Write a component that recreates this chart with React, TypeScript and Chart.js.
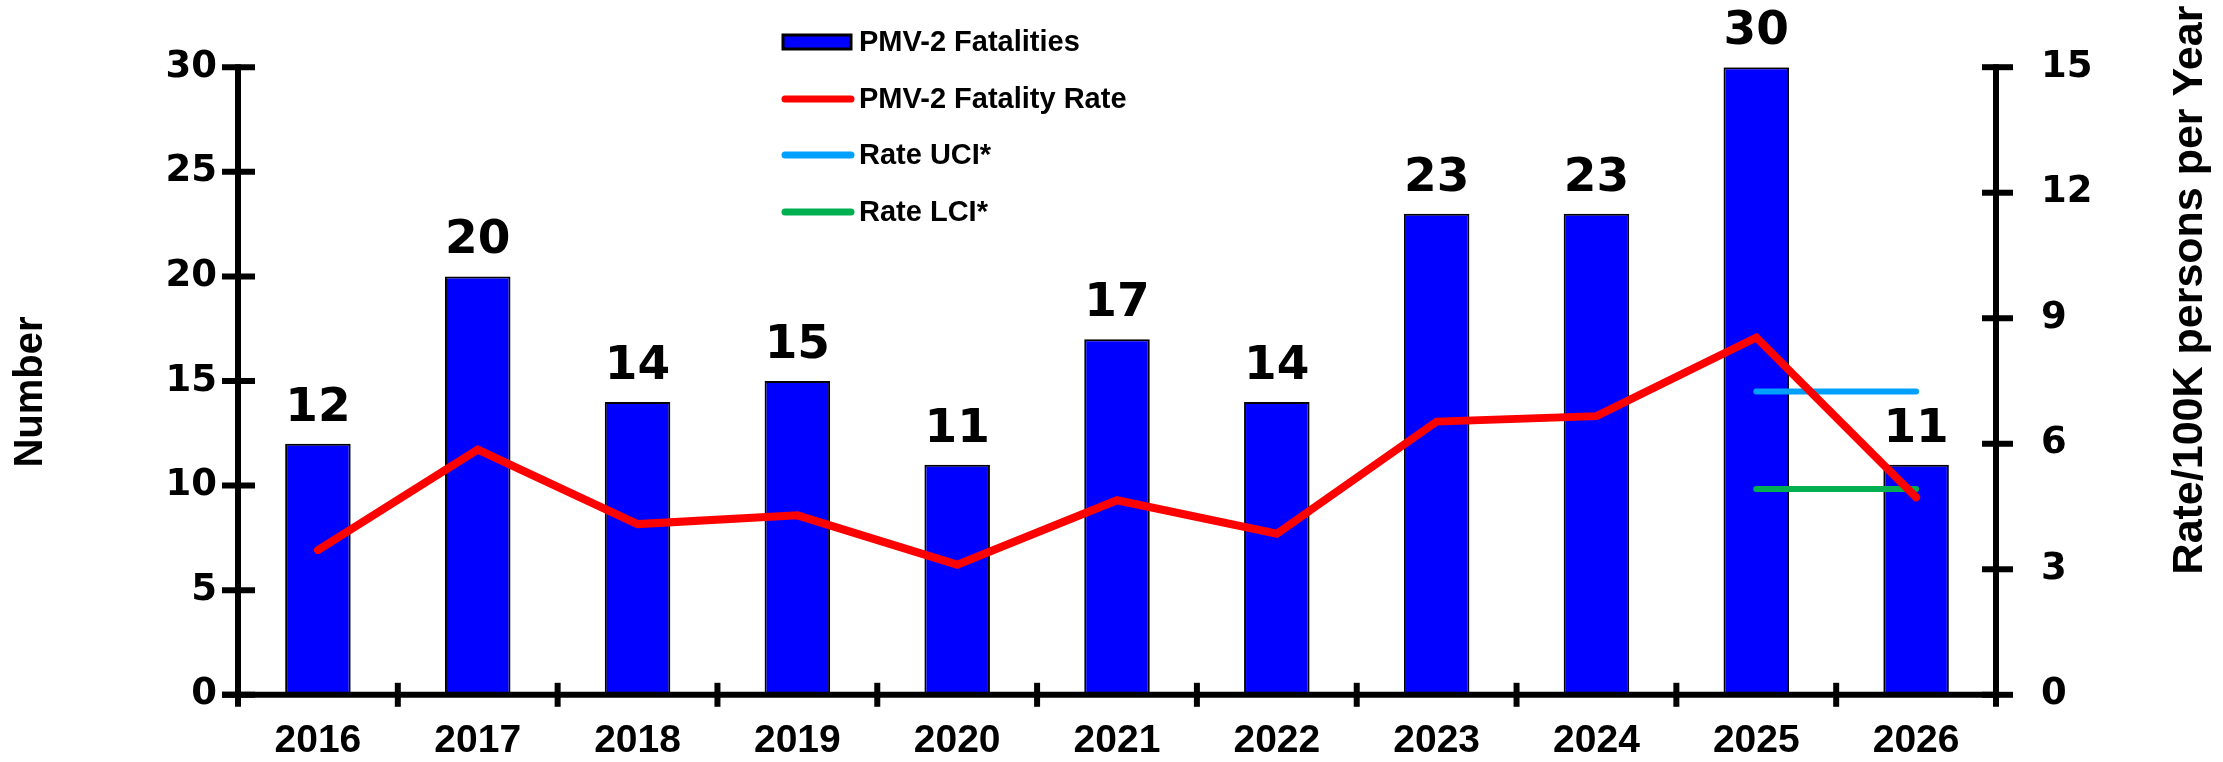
import React, { useEffect, useRef } from "react";
import { Chart, registerables } from "chart.js";

Chart.register(...registerables);

const years = ["2016", "2017", "2018", "2019", "2020", "2021", "2022", "2023", "2024", "2025", "2026"];
const fatalities = [12, 20, 14, 15, 11, 17, 14, 23, 23, 30, 11];
const fatalityRate = [3.46, 5.86, 4.08, 4.29, 3.11, 4.65, 3.85, 6.53, 6.66, 8.54, 4.72];
const rateUCI = [null, null, null, null, null, null, null, null, null, 7.25, 7.25];
const rateLCI = [null, null, null, null, null, null, null, null, null, 4.92, 4.92];
const leftTicks = [0, 5, 10, 15, 20, 25, 30];
const rightTicks = [0, 3, 6, 9, 12, 15];
const leftTitle = "Number";
const rightTitle = "Rate/100K persons per Year";

const W = 2223;
const H = 762;

const customPlugin = {
  id: "custom",
  afterDatasetsDraw(chart: any) {
    const ctx = chart.ctx;
    const x = chart.scales.x;
    const y = chart.scales.y;
    const y1 = chart.scales.y1;
    const ca = chart.chartArea;
    ctx.save();
    ctx.strokeStyle = "#000";
    ctx.lineWidth = 6;
    ctx.lineCap = "butt";
    // left axis
    const y0px = y.getPixelForValue(0);
    const ytop = y.getPixelForValue(leftTicks[leftTicks.length - 1]);
    ctx.beginPath();
    ctx.moveTo(ca.left, y0px + 12);
    ctx.lineTo(ca.left, ytop - 3);
    ctx.stroke();
    leftTicks.forEach((v) => {
      const py = y.getPixelForValue(v);
      ctx.beginPath();
      ctx.moveTo(ca.left - 16, py);
      ctx.lineTo(ca.left + 17, py);
      ctx.stroke();
    });
    // right axis
    ctx.beginPath();
    ctx.moveTo(ca.right, y1.getPixelForValue(0) + 12);
    ctx.lineTo(ca.right, y1.getPixelForValue(rightTicks[rightTicks.length - 1]) - 3);
    ctx.stroke();
    rightTicks.forEach((v) => {
      const py = y1.getPixelForValue(v);
      ctx.beginPath();
      ctx.moveTo(ca.right - 14, py);
      ctx.lineTo(ca.right + 17, py);
      ctx.stroke();
    });
    // x axis
    ctx.beginPath();
    ctx.moveTo(ca.left - 16, y0px);
    ctx.lineTo(ca.right, y0px);
    ctx.stroke();
    for (let i = 1; i < years.length; i++) {
      const px = (x.getPixelForValue(i - 1) + x.getPixelForValue(i)) / 2;
      ctx.beginPath();
      ctx.moveTo(px, y0px - 12);
      ctx.lineTo(px, y0px + 12);
      ctx.stroke();
    }
    // data labels
    const meta = chart.getDatasetMeta(0);
    ctx.fillStyle = "#000";
    ctx.font = "bold 47px 'DejaVu Sans'";
    ctx.textAlign = "center";
    ctx.textBaseline = "alphabetic";
    meta.data.forEach((el: any, i: number) => {
      ctx.fillText(String(fatalities[i]), el.x, el.y - 23);
    });
    // axis titles
    ctx.font = "bold 40px 'Liberation Sans'";
    ctx.textBaseline = "middle";
    ctx.save();
    ctx.translate(31, 392);
    ctx.rotate(-Math.PI / 2);
    ctx.fillText(leftTitle, 0, 0);
    ctx.restore();
    ctx.font = "bold 43px 'Liberation Sans'";
    ctx.save();
    ctx.translate(2190, 290);
    ctx.rotate(-Math.PI / 2);
    ctx.fillText(rightTitle, 0, 0);
    ctx.restore();
    // legend
    const rows = [42, 99, 155, 212];
    const lx0 = 783;
    const lx1 = 851;
    ctx.font = "bold 29px 'Liberation Sans'";
    ctx.textAlign = "left";
    ctx.textBaseline = "middle";
    chart.data.datasets.forEach((ds: any, i: number) => {
      const ry = rows[i];
      if (ds.type === "bar") {
        ctx.fillStyle = ds.backgroundColor;
        ctx.fillRect(lx0, ry - 7, lx1 - lx0, 14);
        ctx.lineWidth = 3;
        ctx.strokeStyle = "#000";
        ctx.strokeRect(lx0, ry - 7, lx1 - lx0, 14);
      } else {
        ctx.strokeStyle = ds.borderColor;
        ctx.lineWidth = 7;
        ctx.lineCap = "round";
        ctx.beginPath();
        ctx.moveTo(lx0 + 2, ry);
        ctx.lineTo(lx1, ry);
        ctx.stroke();
      }
      ctx.fillStyle = "#000";
      ctx.fillText(ds.label, 859, ry + 1);
    });
    ctx.restore();
  },
};

export default function App() {
  const ref = useRef<HTMLCanvasElement | null>(null);
  useEffect(() => {
    if (!ref.current) return;
    const chart = new Chart(ref.current, {
      type: "bar",
      data: {
        labels: years,
        datasets: [
          {
            type: "bar",
            label: "PMV-2 Fatalities",
            data: fatalities,
            backgroundColor: "#0000FF",
            borderColor: "#000000",
            borderWidth: 2,
            barPercentage: 0.41,
            categoryPercentage: 1,
            yAxisID: "y",
            order: 4,
          } as any,
          {
            type: "line",
            label: "PMV-2 Fatality Rate",
            data: fatalityRate,
            borderColor: "#FF0000",
            backgroundColor: "#FF0000",
            borderWidth: 8,
            pointRadius: 0,
            tension: 0,
            borderCapStyle: "round",
            borderJoinStyle: "miter",
            yAxisID: "y1",
            order: 1,
          } as any,
          {
            type: "line",
            label: "Rate UCI*",
            data: rateUCI,
            borderColor: "#00A0FF",
            backgroundColor: "#00A0FF",
            borderWidth: 6,
            pointRadius: 0,
            borderCapStyle: "round",
            yAxisID: "y1",
            order: 2,
          } as any,
          {
            type: "line",
            label: "Rate LCI*",
            data: rateLCI,
            borderColor: "#00B050",
            backgroundColor: "#00B050",
            borderWidth: 6,
            pointRadius: 0,
            borderCapStyle: "round",
            yAxisID: "y1",
            order: 3,
          } as any,
        ],
      },
      options: {
        responsive: false,
        animation: false,
        layout: { padding: { top: 64, left: 0, right: 0, bottom: 0 } },
        plugins: {
          legend: { display: false },
          tooltip: { enabled: false },
        },
        scales: {
          x: {
            type: "category",
            offset: true,
            grid: { display: false, drawTicks: false },
            border: { display: false },
            ticks: {
              color: "#000",
              padding: 23,
              font: { family: "'Liberation Sans'", weight: "bold", size: 39 },
              maxRotation: 0,
              autoSkip: false,
            },
            afterFit: (s: any) => {
              s.height = 63;
            },
          },
          y: {
            position: "left",
            min: 0,
            max: 30,
            grid: { display: false, drawTicks: false },
            border: { display: false },
            ticks: {
              stepSize: 5,
              color: "#000",
              padding: 21,
              font: { family: "'DejaVu Sans'", weight: "bold", size: 37 },
            },
            afterFit: (s: any) => {
              s.width = 238;
            },
          },
          y1: {
            position: "right",
            min: 0,
            max: 15,
            grid: { display: false, drawTicks: false },
            border: { display: false },
            ticks: {
              stepSize: 3,
              color: "#000",
              padding: 45,
              font: { family: "'DejaVu Sans'", weight: "bold", size: 37 },
            },
            afterFit: (s: any) => {
              s.width = W - 1996;
            },
          },
        },
      } as any,
      plugins: [customPlugin],
    });
    return () => chart.destroy();
  }, []);
  return (
    <div style={{ position: "absolute", left: 0, top: 0, width: W, height: H, background: "#fff" }}>
      <canvas ref={ref} width={W} height={H} style={{ display: "block" }} />
    </div>
  );
}
